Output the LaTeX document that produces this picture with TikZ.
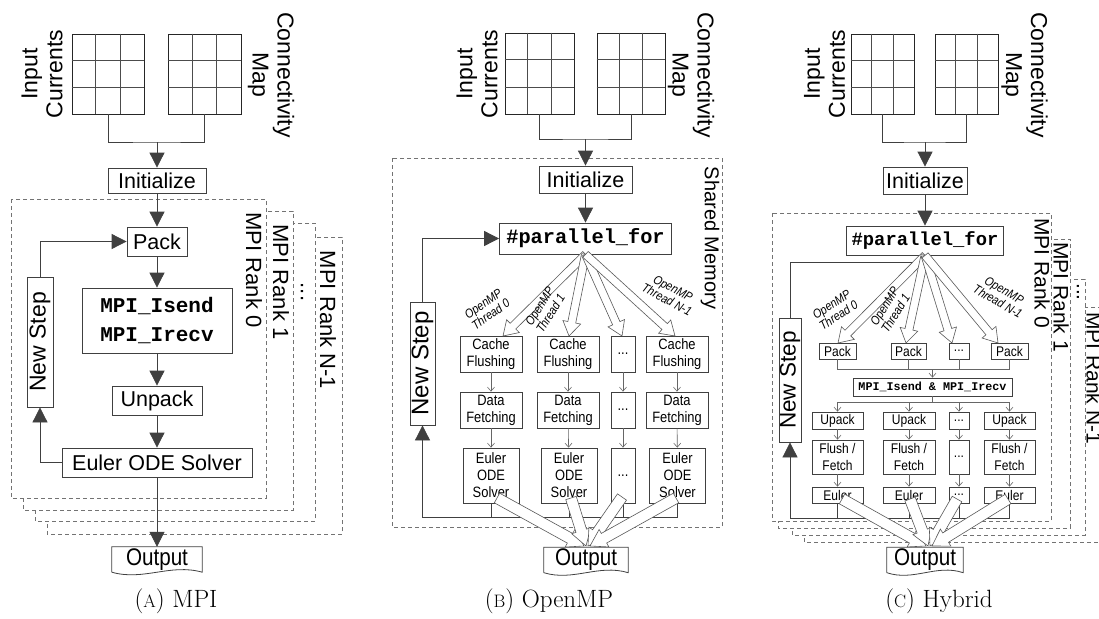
\documentclass[tikz,border=0pt]{standalone}
\usepackage{fontspec}
\usetikzlibrary{calc,arrows.meta}
\newfontfamily\ar{Liberation Sans}
\newfontfamily\arn[FakeStretch=0.86]{Liberation Sans}
\newfontfamily\cour{Liberation Mono}
\newcommand\fsz[2]{\fontsize{#1}{#2}\selectfont}
\tikzset{
  bx/.style={draw=black!75, line width=0.8pt, fill=white, inner sep=0pt, align=center},
  big/.style={font=\ar\fsz{21.5}{25}},
  sm/.style={font=\arn\fsz{15}{17}},
  scb/.style={font=\arn\fsz{14}{17}},
  lbl/.style={font=\ar\fsz{23}{25}, align=center, inner sep=0pt},
  rk/.style={font=\ar\fsz{22}{22}, inner sep=0pt},
  thr/.style={font=\arn\itshape\fsz{12.5}{13}, align=center, inner sep=0pt},
  outt/.style={font=\arn\fsz{24}{24}, inner sep=0pt, minimum height=25pt},
  ol/.style={draw=black!75, line width=0.8pt},
  grd/.style={draw=black!85, line width=0.9pt, inner sep=0pt},
  gl/.style={draw=black!70, line width=0.8pt},
  lay/.style={draw=black!55, dash pattern=on 4pt off 3pt, line width=0.8pt, fill=white},
  ln/.style={draw=black!75, line width=0.8pt},
  bar/.style={ln, -{Triangle[length=15pt,width=15pt]}},
  thn/.style={draw=black!60, line width=0.6pt},
  sar/.style={thn, -{Straight Barb[length=4pt,width=7pt]}},
  harr/.style={draw=black!65, line width=0.6pt, fill=white, line join=miter},
  capt/.style={font=\fsz{25}{28}, inner sep=0pt},
}
\newcommand\gridn[5]{%
  \node[grd, minimum width=#4pt, minimum height=#5pt] (#1) at (#2,#3) {};
  \foreach \f in {0.3333,0.6667}{%
    \draw[gl] ($(#1.north west)!\f!(#1.north east)$) -- ($(#1.south west)!\f!(#1.south east)$);
    \draw[gl] ($(#1.north west)!\f!(#1.south west)$) -- ($(#1.north east)!\f!(#1.south east)$);
  }%
}
\newcommand\harrw[5]{%
  \path ($(#2)!#5!(#1)$) coordinate (hC);
  \draw[harr] ($(#1)!#3!90:(#2)$) -- ($(hC)!#3!90:(#2)$) -- ($(hC)!#4!90:(#2)$) -- (#2) -- ($(hC)!#4!-90:(#2)$) -- ($(hC)!#3!-90:(#2)$) -- ($(#1)!#3!-90:(#2)$) -- cycle;
}
\newcommand\docout[1]{%
  \draw[ol] (#1.south west) -- (#1.north west) -- (#1.north east) -- (#1.south east) .. controls ($(#1.south east)!0.35!(#1.south west)+(0,-9)$) and ($(#1.south east)!0.65!(#1.south west)+(0,9)$) .. (#1.south west);
}
\begin{document}
\begin{tikzpicture}[x=1pt,y=-1pt]
\useasboundingbox (0,0) rectangle (1099,618);
\clip (0,0) rectangle (1099,618);
\fill[white] (0,0) rectangle (1099,618);

% ================= (A) MPI =================
\gridn{gA1}{108}{74}{72}{80}
\gridn{gA2}{204.5}{74}{73}{80}
\node[lbl, rotate=90] (lA1) at (42,74) {Input\\Currents};
\node[lbl, rotate=-90] (lA2) at (271,75) {Connectivity\\Map};
\draw[lay] (47,237) rectangle (342,534);
\node[rk, rotate=-90] (rA3) at (328,320) {MPI Rank N-1};
\draw[lay] (35,223) rectangle (315,521);
\node[rk, rotate=-90] (rA2) at (302,292) {...};
\draw[lay] (23,211) rectangle (293,510);
\node[rk, rotate=-90] (rA1) at (281,282) {MPI Rank 1};
\draw[lay] (11,199) rectangle (266,498);
\node[rk, rotate=-90] (rA0) at (254,270) {MPI Rank 0};
\node[bx,big,minimum width=98pt,minimum height=25pt] (iniA) at (157,180.5) {Initialize};
\node[bx,big,minimum width=60pt,minimum height=29pt] (pkA) at (157,241.5) {Pack};
\node[bx,font=\cour\bfseries\fsz{21}{29},minimum width=150pt,minimum height=65pt] (mpiA) at (157,320.5) {MPI\_Isend\\MPI\_Irecv};
\node[bx,big,minimum width=90pt,minimum height=29pt] (upA) at (157,400.5) {Unpack};
\node[bx,big,minimum width=190pt,minimum height=29pt] (euA) at (157,462.5) {Euler ODE Solver};
\node[bx,font=\ar\fsz{23}{23},rotate=90,minimum width=130pt,minimum height=26pt] (nsA) at (40,342) {New Step};
\node[outt,minimum width=90pt] (outA) at (157,559.5) {Output};
\docout{outA}
\coordinate (jA) at (157,142);
\draw[ln] (gA1.south) |- (jA) -| (gA2.south);
\draw[bar] (jA) -- (iniA.north);
\draw[bar] (iniA) -- (pkA);
\draw[bar] (pkA) -- (mpiA);
\draw[bar] (mpiA) -- (upA);
\draw[bar] (upA) -- (euA);
\draw[bar] (euA) -- (outA);
\draw[bar] (nsA.east) |- (pkA.west);
\draw[bar] (euA.west) -| (nsA.west);
\node[capt] (capA) at (176,601) {({\fsz{18}{18}A}) MPI};

% ================= (B) OpenMP =================
\gridn{gB1}{539.5}{73.5}{69}{81}
\gridn{gB2}{631}{73.5}{68}{81}
\node[lbl, rotate=90] (lB1) at (477,74) {Input\\Currents};
\node[lbl, rotate=-90] (lB2) at (691,75) {Connectivity\\Map};
\draw[lay] (392,158) rectangle (722,527);
\node[rk,rotate=-90,font=\ar\fsz{20}{20}] (smB) at (710,238) {Shared Memory};
\node[bx,big,minimum width=93pt,minimum height=27pt] (iniB) at (585.5,179.5) {Initialize};
\node[bx,font=\cour\bfseries\fsz{20.3}{22},minimum width=172pt,minimum height=31pt] (pfB) at (585.5,238.5) {\#parallel\_for};
\node[bx,font=\ar\fsz{24}{24},rotate=90,minimum width=123pt,minimum height=25pt] (nsB) at (422.5,363.5) {New Step};
\node[bx,sm,minimum width=62pt,minimum height=36pt] (cfB1) at (491,354) {Cache\\Flushing};
\node[bx,sm,minimum width=62pt,minimum height=36pt] (cfB2) at (568,354) {Cache\\Flushing};
\node[bx,sm,minimum width=24pt,minimum height=36pt] (cfB3) at (623,354) {...};
\node[bx,sm,minimum width=62pt,minimum height=36pt] (cfB4) at (677,354) {Cache\\Flushing};
\node[bx,sm,minimum width=62pt,minimum height=36pt] (dfB1) at (491,410) {Data\\Fetching};
\node[bx,sm,minimum width=62pt,minimum height=36pt] (dfB2) at (568,410) {Data\\Fetching};
\node[bx,sm,minimum width=24pt,minimum height=36pt] (dfB3) at (623,410) {...};
\node[bx,sm,minimum width=62pt,minimum height=36pt] (dfB4) at (677,410) {Data\\Fetching};
\node[bx,sm,minimum width=56pt,minimum height=55pt] (euB1) at (491,475.5) {Euler\\ODE\\Solver};
\node[bx,sm,minimum width=56pt,minimum height=55pt] (euB2) at (569,475.5) {Euler\\ODE\\Solver};
\node[bx,sm,minimum width=24pt,minimum height=55pt] (euB3) at (623,475.5) {...};
\node[bx,sm,minimum width=56pt,minimum height=55pt] (euB4) at (677.5,475.5) {Euler\\ODE\\Solver};
\foreach \i in {1,...,4}{\draw[sar] (cfB\i) -- (dfB\i); \draw[sar] (dfB\i) -- (euB\i);}
\coordinate (jB) at (585.5,139);
\draw[ln] (gB1.south) |- (jB) -| (gB2.south);
\draw[bar] (jB) -- (iniB.north);
\draw[bar] (iniB) -- (pfB);
\draw[bar] (nsB.east) |- (pfB.west);
\coordinate (lpB) at (422.5,517);
\draw[bar] (euB4.south) |- (lpB) -- (nsB.west);
\foreach \i in {1,2,3}{\draw[ln] (euB\i.south) -- (euB\i.south |- lpB);}
\coordinate (tB1) at (503,336);
\coordinate (tB2) at (569,336);
\coordinate (tB3) at (622,336);
\coordinate (tB4) at (675,336);
\foreach \i in {1,...,4}{\harrw{pfB.south}{tB\i}{4pt}{9pt}{14pt}}
\node[thr,rotate=35] (thB0) at (487,309) {OpenMP\\Thread 0};
\node[thr,rotate=58] (thB1) at (545,310) {OpenMP\\Thread 1};
\node[thr,rotate=-28] (thBN) at (670,294) {OpenMP\\Thread N-1};
\node[outt,minimum width=84pt] (outB) at (586,560) {Output};
\docout{outB}
\coordinate (bsB1) at (497,498);
\coordinate (bsB2) at (571,498);
\coordinate (bsB3) at (622,497);
\coordinate (bsB4) at (676,498);
\coordinate (btB1) at (584,546);
\coordinate (btB2) at (586,546);
\coordinate (btB3) at (588,546);
\coordinate (btB4) at (590,546);
\foreach \i in {1,...,4}{\harrw{bsB\i}{btB\i}{5.5pt}{10pt}{16pt}}
\node[capt] (capB) at (549,601) {({\fsz{18}{18}B}) OpenMP};

% ================= (C) Hybrid =================
\gridn{gC1}{882.5}{74}{63}{80}
\gridn{gC2}{966.5}{74}{63}{80}
\node[lbl, rotate=90] (lC1) at (824.5,74) {Input\\Currents};
\node[lbl, rotate=-90] (lC2) at (1024.5,75) {Connectivity\\Map};
\draw[lay] (804,307) rectangle (1110,542);
\node[rk,rotate=-90,font=\ar\fsz{21}{21}] (rC3) at (1094,378) {MPI Rank N-1};
\draw[lay] (792,279) rectangle (1085,535);
\node[rk,rotate=-90,font=\ar\fsz{21}{21}] (rC2) at (1078,292) {...};
\draw[lay] (778,239) rectangle (1070,528);
\node[rk,rotate=-90,font=\ar\fsz{21}{21}] (rC1) at (1061,297) {MPI Rank 1};
\draw[lay] (772,213) rectangle (1051,521);
\node[rk,rotate=-90,font=\ar\fsz{21}{21}] (rC0) at (1042,273) {MPI Rank 0};
\node[bx,big,minimum width=84pt,minimum height=27pt] (iniC) at (925,180.5) {Initialize};
\node[bx,font=\cour\bfseries\fsz{18.8}{20},minimum width=157pt,minimum height=29pt] (pfC) at (925,240.5) {\#parallel\_for};
\node[bx,font=\ar\fsz{22.5}{22.5},rotate=90,minimum width=124pt,minimum height=22pt] (nsC) at (790,380) {New Step};
\node[bx,scb,minimum width=37pt,minimum height=16pt] (pkC1) at (837.5,351) {Pack};
\node[bx,scb,minimum width=35pt,minimum height=16pt] (pkC2) at (908.5,351) {Pack};
\node[bx,scb,minimum width=20pt,minimum height=16pt] (pkC3) at (959,351) {...};
\node[bx,scb,minimum width=37pt,minimum height=16pt] (pkC4) at (1009.5,351) {Pack};
\node[bx,font=\cour\bfseries\fsz{11.75}{12},minimum width=159pt,minimum height=18pt] (mpiC) at (932.5,387) {MPI\_Isend \& MPI\_Irecv};
\node[bx,scb,minimum width=51pt,minimum height=17pt] (upC1) at (837.5,420.5) {Upack};
\node[bx,scb,minimum width=52pt,minimum height=17pt] (upC2) at (909,420.5) {Upack};
\node[bx,scb,minimum width=20pt,minimum height=17pt] (upC3) at (959,420.5) {...};
\node[bx,scb,minimum width=51pt,minimum height=17pt] (upC4) at (1009.5,420.5) {Upack};
\node[bx,scb,minimum width=51pt,minimum height=34pt] (ffC1) at (837.5,457) {Flush /\\Fetch};
\node[bx,scb,minimum width=52pt,minimum height=34pt] (ffC2) at (909,457) {Flush /\\Fetch};
\node[bx,scb,minimum width=20pt,minimum height=34pt] (ffC3) at (959,457) {...};
\node[bx,scb,minimum width=51pt,minimum height=34pt] (ffC4) at (1009.5,457) {Flush /\\Fetch};
\node[bx,scb,minimum width=51pt,minimum height=16pt] (eC1) at (837.5,495) {Euler};
\node[bx,scb,minimum width=52pt,minimum height=16pt] (eC2) at (909,495) {Euler};
\node[bx,scb,minimum width=20pt,minimum height=16pt] (eC3) at (959,495) {...};
\node[bx,scb,minimum width=51pt,minimum height=16pt] (eC4) at (1009.5,495) {Euler};
\coordinate (jnC) at (932.5,369);
\draw[thn] (pkC1.south) -- (pkC1.south |- jnC) -- (pkC4.south |- jnC) -- (pkC4.south);
\draw[thn] (pkC2.south) -- (pkC2.south |- jnC);
\draw[thn] (pkC3.south) -- (pkC3.south |- jnC);
\draw[sar] (mpiC.north |- jnC) -- (mpiC.north);
\coordinate (spC) at (932.5,402);
\draw[thn] (mpiC.south) -- (spC);
\draw[thn] (upC1.north |- spC) -- (upC4.north |- spC);
\foreach \i in {1,...,4}{\draw[sar] (upC\i.north |- spC) -- (upC\i.north); \draw[sar] (upC\i) -- (ffC\i); \draw[sar] (ffC\i) -- (eC\i);}
\coordinate (jC) at (925,142);
\draw[ln] (gC1.south) |- (jC) -| (gC2.south);
\draw[bar] (jC) -- (iniC.north);
\draw[bar] (iniC) -- (pfC);
\coordinate (lptC) at (925,262);
\draw[ln] (nsC.east) |- (lptC);
\coordinate (lpC) at (790,518);
\draw[bar] (eC4.south) |- (lpC) -- (nsC.west);
\foreach \i in {1,2,3}{\draw[ln] (eC\i.south) -- (eC\i.south |- lpC);}
\coordinate (tC1) at (838,343);
\coordinate (tC2) at (906,343);
\coordinate (tC3) at (952,343);
\coordinate (tC4) at (998,343);
\foreach \i in {1,...,4}{\harrw{pfC.south}{tC\i}{4pt}{9pt}{14pt}}
\node[thr,rotate=33] (thC0) at (835,310) {OpenMP\\Thread 0};
\node[thr,rotate=58] (thC1) at (890,310) {OpenMP\\Thread 1};
\node[thr,rotate=-30] (thCN) at (1001,296) {OpenMP\\Thread N-1};
\node[outt,minimum width=76pt] (outC) at (925,560) {Output};
\docout{outC}
\coordinate (bsC1) at (842,499);
\coordinate (bsC2) at (910,499);
\coordinate (bsC3) at (957,499);
\coordinate (bsC4) at (1008,499);
\coordinate (btC1) at (926,546);
\coordinate (btC2) at (928,546);
\coordinate (btC3) at (930,546);
\coordinate (btC4) at (932,546);
\foreach \i in {1,...,4}{\harrw{bsC\i}{btC\i}{5.5pt}{10pt}{16pt}}
\node[capt] (capC) at (939,601) {({\fsz{18}{18}C}) Hybrid};
\end{tikzpicture}
\end{document}
